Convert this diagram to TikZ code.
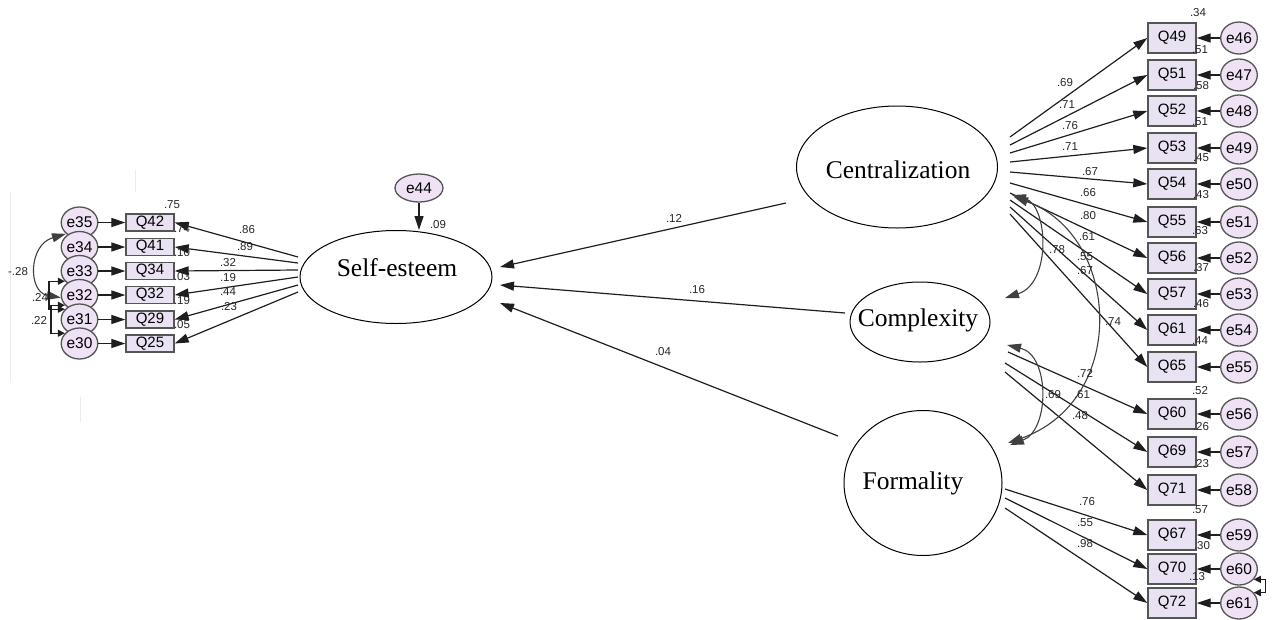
\documentclass[tikz,border=0pt]{standalone}
\usepackage{fontspec}
\setmainfont{Liberation Serif}
\setsansfont{Liberation Sans}
\usetikzlibrary{arrows.meta,shapes.geometric}
\definecolor{qfill}{RGB}{233,226,242}
\definecolor{efill}{RGB}{238,226,244}
\definecolor{rim}{RGB}{85,85,85}
\definecolor{wire}{RGB}{30,30,30}
\tikzset{
  amos/.tip={Triangle[length=14pt,width=9pt]},
  amossmall/.tip={Triangle[length=7pt,width=7pt]},
  arr/.style={-amos, line width=1.2pt, draw=wire},
  cov/.style={amos-amos, line width=1.1pt, draw=wire!85},
  bracket/.style={amossmall-amossmall, line width=1.3pt, draw=wire},
  obsL/.style={rectangle, draw=rim, fill=qfill, line width=1.4pt, minimum width=48pt,
    minimum height=17pt, inner sep=0pt, font=\sffamily\fontsize{15}{15}\selectfont},
  obsR/.style={obsL, minimum height=30pt},
  err/.style={ellipse, draw=rim, fill=efill, line width=1.3pt, minimum width=35pt,
    minimum height=31pt, inner sep=0pt, font=\sffamily\fontsize{15.5}{15}\selectfont},
  lat/.style={ellipse, draw=black, line width=1pt, fill=white, inner sep=0pt},
  latname/.style={font=\fontsize{25.5}{26}\selectfont, inner sep=0pt},
  num/.style={font=\sffamily\fontsize{11.5}{11}\selectfont, inner sep=0pt, text=black!85},
  faint/.style={draw=black!7, line width=1pt}
}
\begin{document}
\begin{tikzpicture}[x=1pt,y=-1pt]
\useasboundingbox (0,0) rectangle (1274,619);

% faint guide strokes
\draw[faint] (10,192) -- (10,382);
\draw[faint] (80,397) -- (80,422);
\draw[faint] (135,170) -- (135,192);

% ---------- latent variables ----------
\node[lat, minimum width=192pt, minimum height=93pt] (se) at (396,277) {};
\node[latname] (seT) at (397,268) {Self-esteem};
\node[lat, minimum width=201pt, minimum height=122pt] (cen) at (897,167) {};
\node[latname] (cenT) at (898,170) {Centralization};
\node[lat, minimum width=140pt, minimum height=80pt] (cpx) at (920,322) {};
\node[latname] (cpxT) at (918,320) {Complexity};
\node[lat, minimum width=158pt, minimum height=145pt] (frm) at (923,483) {};
\node[latname] (frmT) at (913,483) {Formality};

% disturbance of Self-esteem
\node[err, minimum width=48pt, minimum height=28pt] (e44) at (419,188) {e44};
\draw[arr] (e44.south) -- (e44.south |- se.north);
\node[num] (l09) at (438,225) {.09};

% ---------- Self-esteem indicators ----------
\foreach \q/\e/\y in {Q42/e35/222.5, Q41/e34/247, Q34/e33/271, Q32/e32/295, Q29/e31/319.5, Q25/e30/343.5}{
  \node[obsL] (\q) at (150,\y) {\q};
}
\foreach \q/\e/\y in {Q42/e35/222.5, Q41/e34/247, Q34/e33/271, Q32/e32/295, Q29/e31/319.5, Q25/e30/343.5}{
  \node[err] (\e) at (79.5,\y) {\e};
  \draw[arr] (\e) -- (\q);
}
\coordinate (s1) at (298,257);
\coordinate (s2) at (298,263);
\coordinate (s3) at (298,270);
\coordinate (s4) at (298,277);
\coordinate (s5) at (298,285);
\coordinate (s6) at (298,292);
\draw[arr] (s1) -- (Q42.east);
\draw[arr] (s2) -- (Q41.east);
\draw[arr] (s3) -- (Q34.east);
\draw[arr] (s4) -- (Q32.east);
\draw[arr] (s5) -- (Q29.east);
\draw[arr] (s6) -- (Q25.east);

\node[num] (lq42) at (172,205) {.75};
\node[num] (lq41) at (182,229) {.74};
\node[num] (lq34) at (182,253) {.10};
\node[num] (lq32) at (182,277) {.03};
\node[num] (lq29) at (182,301) {.19};
\node[num] (lq25) at (182,325) {.05};
\node[num] (l86) at (247,230) {.86};
\node[num] (l89) at (245,247) {.89};
\node[num] (l32) at (228,263) {.32};
\node[num] (l19) at (228,278) {.19};
\node[num] (l44) at (228,292) {.44};
\node[num] (l23) at (229,307) {.23};

% error covariances on the left
\draw[cov] (e32.188) .. controls (28,292) and (28,245) .. (e35.220);
\draw[bracket] (e33.215) -- ++(-16,0) |- (e31.145);
\draw[bracket] (e32.215) -- ++(-14,0) |- (e30.145);
\node[num] (l28) at (18,272) {-.28};
\node[num] (l24) at (40,297) {.24};
\node[num] (l22) at (39,320) {.22};

% ---------- structural paths ----------
\coordinate (cs) at (786,203);
\coordinate (xs) at (845,313);
\coordinate (fs) at (838,436);
\coordinate (t1) at (500,267);
\coordinate (t2) at (500,285);
\coordinate (t3) at (500,303);
\draw[arr] (cs) -- (t1);
\draw[arr] (xs) -- (t2);
\draw[arr] (fs) -- (t3);
\node[num] (l12) at (674,218) {.12};
\node[num] (l16) at (697,290) {.16};
\node[num] (l04) at (663,352) {.04};

% ---------- right-hand indicators ----------
\foreach \q/\e/\y in {Q49/e46/38, Q51/e47/75, Q52/e48/111, Q53/e49/148, Q54/e50/184,
  Q55/e51/222, Q56/e52/258, Q57/e53/294, Q61/e54/330, Q65/e55/367,
  Q60/e56/414, Q69/e57/452, Q71/e58/490, Q67/e59/535, Q70/e60/569, Q72/e61/603}{
  \node[obsR] (\q) at (1172,\y) {\q};
  \node[err, minimum height=32pt, minimum width=36pt] (\e) at (1239,\y) {\e};
  \draw[arr] (\e) -- (\q);
}

% Centralization loadings
\foreach \q/\y in {Q49/137, Q51/145, Q52/153, Q53/162, Q54/172, Q55/183, Q56/193, Q57/200, Q61/207, Q65/214}{
  \coordinate (c\q) at (1010,\y);
  \draw[arr] (c\q) -- (\q.west);
}
% Complexity loadings
\coordinate (xQ60) at (1008,352);
\coordinate (xQ69) at (1005,363);
\coordinate (xQ71) at (1005,372);
\draw[arr] (xQ60) -- (Q60.west);
\draw[arr] (xQ69) -- (Q69.west);
\draw[arr] (xQ71) -- (Q71.west);
% Formality loadings
\coordinate (fQ67) at (1005,489);
\coordinate (fQ70) at (1005,498);
\coordinate (fQ72) at (1005,508);
\draw[arr] (fQ67) -- (Q67.west);
\draw[arr] (fQ70) -- (Q70.west);
\draw[arr] (fQ72) -- (Q72.west);

% factor covariances
\coordinate (cA) at (1012,195);
\coordinate (cB) at (1014,197);
\coordinate (xA) at (1005,298);
\coordinate (xB) at (1007,345);
\coordinate (fA) at (1008,443);
\coordinate (fB) at (1010,445);
\draw[cov] (cA) .. controls (1048,205) and (1052,283) .. (xA);
\draw[cov] (cB) .. controls (1120,235) and (1130,400) .. (fA);
\draw[cov] (xB) .. controls (1050,355) and (1050,430) .. (fB);

% error covariance e60-e61
\draw[bracket] (e60.-35) -- ++(12,0) |- (e61.35);

% loading labels
\node[num] (r69) at (1065,83) {.69};
\node[num] (r71a) at (1067,105) {.71};
\node[num] (r76) at (1070,126) {.76};
\node[num] (r71b) at (1070,147) {.71};
\node[num] (r67a) at (1090,172) {.67};
\node[num] (r66) at (1088,193) {.66};
\node[num] (r80) at (1088,216) {.80};
\node[num] (r61a) at (1087,237) {.61};
\node[num] (r55a) at (1085,257) {.55};
\node[num] (r67b) at (1085,271) {.67};
\node[num] (r78) at (1057,250) {.78};
\node[num] (r74) at (1113,322) {.74};
\node[num] (r72) at (1085,373) {.72};
\node[num] (r69b) at (1053,395) {.69};
\node[num] (r61b) at (1082,395) {.61};
\node[num] (r48) at (1080,416) {.48};
\node[num] (r76b) at (1087,502) {.76};
\node[num] (r55b) at (1085,523) {.55};
\node[num] (r98) at (1085,544) {.98};

% squared multiple correlations
\node[num] (p49) at (1198,13) {.34};
\node[num] (p51) at (1200,50) {.51};
\node[num] (p52) at (1201,86) {.58};
\node[num] (p53) at (1200,122) {.51};
\node[num] (p54) at (1201,158) {.45};
\node[num] (p55) at (1201,195) {.43};
\node[num] (p56) at (1200,231) {.63};
\node[num] (p57) at (1201,268) {.37};
\node[num] (p61) at (1201,304) {.46};
\node[num] (p65) at (1200,341) {.44};
\node[num] (p60) at (1200,391) {.52};
\node[num] (p69) at (1201,427) {.26};
\node[num] (p71) at (1201,464) {.23};
\node[num] (p67) at (1200,510) {.57};
\node[num] (p70) at (1202,546) {.30};
\node[num] (p72) at (1197,577) {.13};
\end{tikzpicture}
\end{document}
